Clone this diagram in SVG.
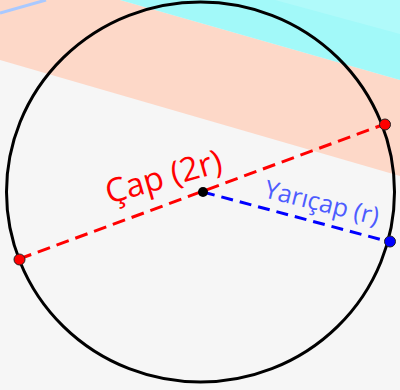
<svg xmlns="http://www.w3.org/2000/svg" width="400" height="390" viewBox="0 0 400 390">
  <style>
    .lbl { font-family: "Open Sans", "Noto Sans", "DejaVu Sans", sans-serif; }
    .pt { stroke: #222; stroke-width: 1; }
  </style>
  <g id="background">
    <rect x="0" y="0" width="400" height="390" fill="#f6f6f6"/>
    <polygon points="0,0 120,0 400,80 400,176 0,60" fill="#fdd8c8"/>
    <polygon points="120,0 400,0 400,80" fill="#a2f9f9"/>
    <polygon points="275,0 400,0 400,34" fill="#b0fafa"/>
    <line x1="0" y1="13" x2="46" y2="0" stroke="#a9c9ff" stroke-width="3"/>
  </g>
  <g id="circle">
    <ellipse cx="200.5" cy="192" rx="194" ry="190" fill="none" stroke="#000" stroke-width="3"/>
  </g>
  <g id="connectors">
    <line id="diameter" x1="19" y1="259" x2="385" y2="124" stroke="#ff0000" stroke-width="3" stroke-dasharray="13 7"/>
    <line id="radius" x1="203" y1="192" x2="390" y2="242" stroke="#0000ff" stroke-width="3" stroke-dasharray="12 7"/>
  </g>
  <g id="center">
    <circle cx="203" cy="192" r="5" fill="#000"/>
  </g>
  <g id="pointA">
    <circle class="pt" cx="19.5" cy="259.5" r="5.5" fill="#ff0000"/>
  </g>
  <g id="pointB">
    <circle class="pt" cx="385" cy="124.5" r="5.5" fill="#ff0000"/>
  </g>
  <g id="pointC">
    <circle class="pt" cx="390" cy="241.5" r="5.5" fill="#0000ff"/>
  </g>
  <g id="label-diameter">
    <text class="lbl" x="0" y="0" font-size="33" fill="#ff0000" transform="translate(109,204) rotate(-16)">Çap (2r)</text>
  </g>
  <g id="label-radius">
    <text class="lbl" x="0" y="0" font-size="25" fill="#4d5cff" transform="translate(263,197) rotate(14)">Yarıçap (r)</text>
  </g>
</svg>
